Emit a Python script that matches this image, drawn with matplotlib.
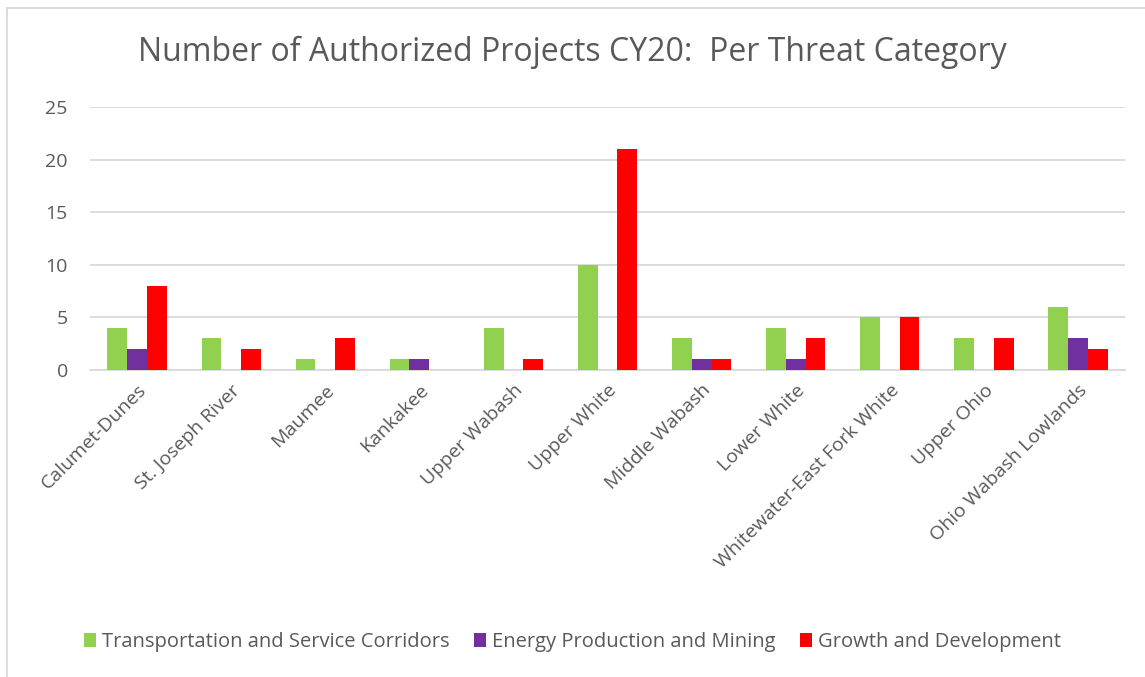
import numpy as np
import matplotlib.pyplot as plt
from matplotlib.lines import Line2D

regions = ["Calumet-Dunes", "St. Joseph River", "Maumee", "Kankakee", "Upper Wabash",
           "Upper White", "Middle Wabash", "Lower White", "Whitewater-East Fork White",
           "Upper Ohio", "Ohio Wabash Lowlands"]
transportation = [4, 3, 1, 1, 4, 10, 3, 4, 5, 3, 6]
energy = [2, 0, 0, 1, 0, 0, 1, 1, 0, 0, 3]
growth = [8, 2, 3, 0, 1, 21, 1, 3, 5, 3, 2]

series = [("Transportation and Service Corridors", transportation, "#92D050"),
          ("Energy Production and Mining", energy, "#7030A0"),
          ("Growth and Development", growth, "#FF0000")]

plt.rcParams['font.family'] = ['Open Sans', 'DejaVu Sans']
text_color = "#595959"

fig = plt.figure(figsize=(11.45, 6.77), dpi=100)
ax = fig.add_axes([0.0786, 0.4535, 0.904, 0.3885])

x = np.arange(len(regions))
w = 0.21
for i, (name, vals, col) in enumerate(series):
    ax.bar(x + (i - 1) * w, vals, w, color=col, label=name, zorder=3)

ax.set_xlim(-0.5, len(regions) - 0.5)
ax.set_ylim(0, 25)
ax.set_yticks(range(0, 26, 5))
ax.grid(axis="y", color="#D9D9D9", linewidth=1.3, zorder=0)
for s in ["top", "right", "left"]:
    ax.spines[s].set_visible(False)
ax.spines["bottom"].set_color("#D9D9D9")
ax.spines["bottom"].set_linewidth(1.3)
ax.tick_params(length=0, labelsize=14, colors=text_color)
ax.tick_params(axis="y", pad=16)
ax.tick_params(axis="x", pad=8)
ax.set_xticks(x)
ax.set_xticklabels(regions, rotation=45, ha="right", rotation_mode="anchor")

fig.text(0.5, 0.922, "Number of Authorized Projects CY20:  Per Threat Category",
         ha="center", va="center", fontsize=23, color=text_color)

ax.legend(loc="center", bbox_to_anchor=(0.5, 0.052), bbox_transform=fig.transFigure,
          ncol=3, frameon=False, fontsize=14.5, handlelength=0.6, handleheight=0.7,
          handletextpad=0.3, columnspacing=1.2, labelcolor=text_color)

# chart border
fig.add_artist(Line2D([0.006, 1.0], [0.988, 0.988], color="#D9D9D9", lw=1.3, transform=fig.transFigure))
fig.add_artist(Line2D([0.006, 0.006], [0.0, 0.988], color="#D9D9D9", lw=1.3, transform=fig.transFigure))

fig.savefig("out.png", dpi=100)
